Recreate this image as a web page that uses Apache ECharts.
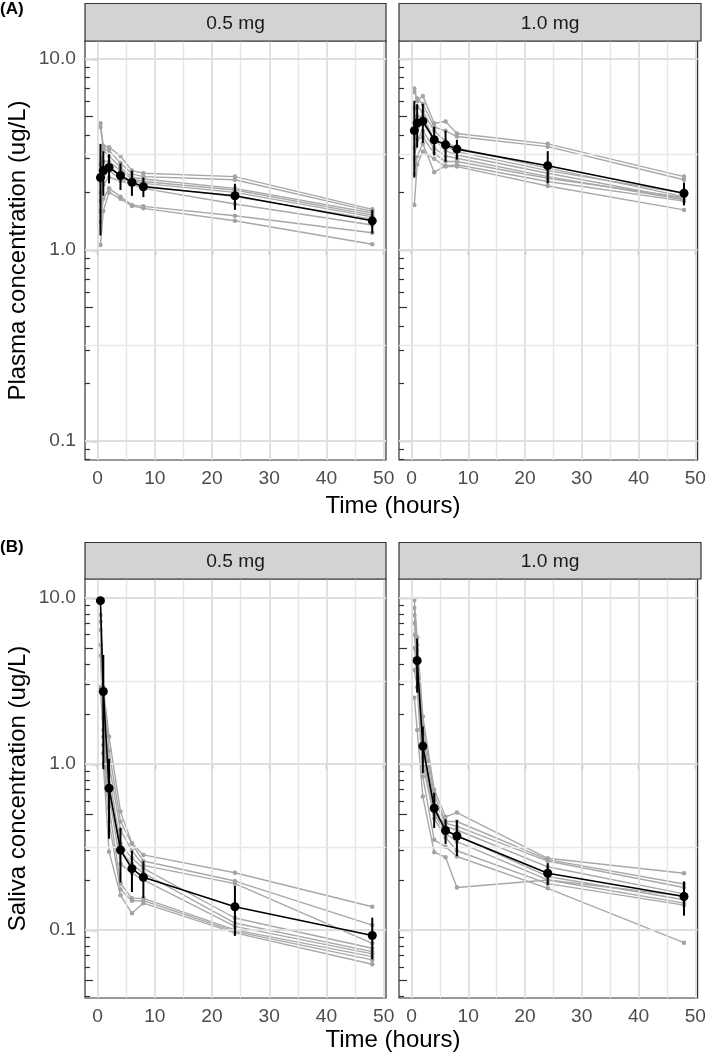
<!DOCTYPE html>
<html><head><meta charset="utf-8">
<script src="https://cdn.jsdelivr.net/npm/echarts@6/dist/echarts.min.js"></script>
<style>html,body{margin:0;padding:0;background:#fff}#c{width:709px;height:1057px}</style>
</head><body><div id="c"></div>
<script>
// ---------- data ----------
const times = [0.5, 1, 2, 4, 6, 8, 24, 48];
const doseLabels = ['0.5 mg', '1.0 mg'];
const xTickLabels = [0, 10, 20, 30, 40, 50];
const yTickLabels = [0.1, 1, 10];
const xLimits = [-2.2, 50.4];
const plasmaLimits = [0.0795, 12.4];
const salivaLimits = [0.0389, 13.0];

// individual subjects, plasma 0.5 mg
const plasma05 = [
  [4.6, 3.5, 3.45, 3.1, 2.6, 2.52, 2.42, 1.63],
  [4.4, 3.4, 3.3, 2.85, 2.5, 2.42, 2.33, 1.59],
  [2.8, 3.3, 3.1, 2.7, 2.4, 2.35, 2.10, 1.56],
  [2.3, 2.9, 2.9, 2.6, 2.35, 2.28, 2.06, 1.52],
  [2.0, 2.7, 2.75, 2.45, 2.3, 2.23, 2.00, 1.49],
  [1.8, 2.4, 2.6, 2.35, 2.25, 2.16, 1.90, 1.45],
  [1.6, 2.2, 2.4, 2.3, 2.2, 2.10, 1.74, 1.35],
  [1.4, 1.85, 2.1, 1.9, 1.72, 1.69, 1.51, 1.23],
  [1.06, 1.6, 2.0, 1.85, 1.70, 1.65, 1.42, 1.07]
];
const plasma05Mean = [2.39, 2.60, 2.70, 2.45, 2.26, 2.14, 1.92, 1.42];
const plasma05Sd   = [1.2, 0.68, 0.47, 0.39, 0.34, 0.25, 0.30, 0.20];

// plasma 1.0 mg
const plasma10 = [
  [7.0, 6.0, 6.4, 4.6, 4.7, 4.07, 3.59, 2.42],
  [6.7, 6.2, 5.8, 4.4, 4.2, 3.92, 3.47, 2.33],
  [5.5, 5.6, 5.3, 4.2, 3.7, 3.41, 2.68, 1.90],
  [4.6, 5.0, 5.0, 3.8, 3.5, 3.27, 2.60, 1.98],
  [3.9, 4.3, 4.6, 3.8, 3.3, 3.14, 2.52, 1.85],
  [3.4, 3.8, 4.2, 3.4, 3.1, 3.02, 2.42, 1.83],
  [3.0, 3.8, 3.9, 3.2, 2.9, 2.90, 2.37, 1.88],
  [2.5, 3.1, 3.6, 2.55, 2.75, 2.79, 2.28, 1.80],
  [1.72, 2.8, 3.27, 3.0, 2.73, 2.73, 2.16, 1.62]
];
const plasma10Mean = [4.21, 4.61, 4.72, 3.77, 3.55, 3.37, 2.76, 1.98];
const plasma10Sd   = [1.82, 1.18, 1.09, 0.64, 0.66, 0.40, 0.53, 0.27];

// saliva 0.5 mg
const saliva05 = [
  [7.9, 2.9, 1.46, 0.516, 0.333, 0.283, 0.221, 0.138],
  [7.2, 2.8, 1.2, 0.45, 0.33, 0.26, 0.197, 0.107],
  [6.4, 2.2, 1.0, 0.40, 0.30, 0.245, 0.19, 0.083],
  [5.2, 1.9, 0.85, 0.33, 0.27, 0.235, 0.118, 0.0775],
  [4.5, 1.6, 0.75, 0.30, 0.25, 0.22, 0.11, 0.074],
  [2.9, 1.46, 0.65, 0.25, 0.22, 0.20, 0.105, 0.0717],
  [null, 1.3, 0.55, 0.191, 0.155, 0.155, 0.10, 0.069],
  [null, 1.16, 0.45, 0.175, 0.15, 0.15, 0.098, 0.066],
  [null, 1.0, 0.296, 0.162, 0.126, 0.145, 0.096, 0.0621]
];
const saliva05Mean = [9.63, 2.73, 0.714, 0.303, 0.234, 0.2076, 0.138, 0.0925];
const saliva05Sd   = [10.5, 1.8, 0.36, 0.11, 0.065, 0.052, 0.046, 0.026];

// saliva 1.0 mg
const saliva10 = [
  [9.7, 5.8, 1.93, 0.70, 0.48, 0.509, 0.27, 0.2195],
  [8.7, 5.2, 1.7, 0.65, 0.45, 0.45, 0.265, 0.189],
  [7.9, 4.8, 1.5, 0.60, 0.44, 0.42, 0.26, 0.18],
  [7.05, 4.4, 1.35, 0.55, 0.42, 0.40, 0.24, 0.165],
  [6.0, 4.0, 1.2, 0.52, 0.40, 0.37, 0.21, 0.152],
  [5.0, 3.6, 1.1, 0.50, 0.38, 0.34, 0.20, 0.145],
  [4.3, 3.3, 1.0, 0.47, 0.36, 0.30, 0.19, 0.141],
  [3.68, 2.9, 0.838, 0.349, 0.317, 0.277, 0.178, 0.0838],
  [2.5, 1.6, 0.636, 0.294, 0.274, 0.18, 0.20, 0.16]
];
const saliva10Mean = [null, 4.19, 1.28, 0.541, 0.397, 0.368, 0.2195, 0.159];
const saliva10Sd   = [null, 1.5, 0.4, 0.13, 0.068, 0.09, 0.033, 0.037];

// ---------- chart ----------
const FONT = "'Liberation Sans', Arial, Helvetica, sans-serif";
const L = Math.log10;
const BORDER = '#333333';

const panels = [
  {grid: {left: 85, top: 41, width: 301, height: 419}, subj: plasma05, mean: plasma05Mean, sd: plasma05Sd, lim: plasmaLimits, left: true, title: 'Plasma concentration (ug/L)', strip: doseLabels[0]},
  {grid: {left: 399, top: 41, width: 302, height: 419}, subj: plasma10, mean: plasma10Mean, sd: plasma10Sd, lim: plasmaLimits, left: false, strip: doseLabels[1]},
  {grid: {left: 85, top: 579, width: 301, height: 419}, subj: saliva05, mean: saliva05Mean, sd: saliva05Sd, lim: salivaLimits, left: true, title: 'Saliva concentration (ug/L)', strip: doseLabels[0]},
  {grid: {left: 399, top: 579, width: 302, height: 419}, subj: saliva10, mean: saliva10Mean, sd: saliva10Sd, lim: salivaLimits, left: false, strip: doseLabels[1]}
];

function logTickValues(lim, mults) {
  const out = [];
  [0.01, 0.1, 1, 10].forEach(d => mults.forEach(m => {
    const v = d * m;
    if (v >= lim[0] && v <= lim[1]) out.push(L(v));
  }));
  return out;
}

const grids = [], xAxes = [], yAxes = [], series = [], graphics = [];

panels.forEach((p, i) => {
  grids.push(Object.assign({show: true, borderColor: BORDER, borderWidth: 1.2, backgroundColor: '#ffffff', containLabel: false}, p.grid));
  const ymin = L(p.lim[0]), ymax = L(p.lim[1]);

  xAxes.push({
    gridIndex: i, type: 'value', position: 'bottom', min: xLimits[0], max: xLimits[1],
    axisLine: {show: false},
    axisTick: {show: true, length: 5, customValues: xTickLabels, lineStyle: {color: BORDER, width: 1.2}},
    axisLabel: {show: true, customValues: xTickLabels, fontSize: 19.2, color: '#4d4d4d', fontFamily: FONT, margin: 9},
    splitLine: {show: false}
  });

  const yBase = yAxes.length;
  const decades = yTickLabels.map(v => L(v)).filter(v => v >= ymin && v <= ymax);
  yAxes.push({
    gridIndex: i, type: 'value', position: 'left', min: ymin, max: ymax,
    axisLine: {show: false},
    axisTick: {show: p.left, length: 5, customValues: decades, lineStyle: {color: BORDER, width: 1.2}},
    axisLabel: {show: p.left, customValues: decades, fontSize: 19.2, color: '#4d4d4d', fontFamily: FONT, margin: 9,
      formatter: v => Math.pow(10, v).toFixed(1)},
    splitLine: {show: false},
    name: p.left ? p.title : '', nameLocation: 'middle', nameGap: 55,
    nameTextStyle: {fontSize: 24, color: '#000', fontFamily: FONT}
  });
  [[decades, 13], [logTickValues(p.lim, [5]), 8], [logTickValues(p.lim, [2, 3, 4, 6, 7, 8, 9]), 5]].forEach(([vals, len]) => {
    yAxes.push({
      gridIndex: i, type: 'value', position: 'left', min: ymin, max: ymax,
      axisLine: {show: false}, axisLabel: {show: false}, splitLine: {show: false},
      axisTick: {show: true, inside: true, length: len, customValues: vals, lineStyle: {color: BORDER, width: 1.2}}
    });
  });

  // panel grid lines (major + minor)
  const mlData = [];
  for (let x = 0; x <= 50; x += 5) {
    const major = x % 10 === 0;
    mlData.push({xAxis: x, lineStyle: {color: major ? '#dedede' : '#e6e6e6', width: major ? 1.8 : 1.4, type: 'solid'}});
  }
  [-1.5, -1, -0.5, 0, 0.5, 1, 1.5].forEach(v => {
    if (v > ymin && v < ymax) {
      const major = Number.isInteger(v);
      mlData.push({yAxis: v, lineStyle: {color: major ? '#dedede' : '#e8e8e8', width: major ? 1.8 : 1.3, type: 'solid'}});
    }
  });
  series.push({
    type: 'line', xAxisIndex: i, yAxisIndex: yBase, data: [[0, 0]], symbol: 'none', showSymbol: false,
    lineStyle: {width: 0, opacity: 0}, silent: true, z: 1,
    markLine: {silent: true, symbol: ['none', 'none'], label: {show: false}, animation: false, data: mlData}
  });

  // individual subject profiles
  p.subj.forEach(s => {
    series.push({
      type: 'line', xAxisIndex: i, yAxisIndex: yBase, z: 3,
      data: times.map((t, j) => [t, s[j]]).filter(d => d[1] != null).map(d => [d[0], L(d[1])]),
      symbol: 'circle', symbolSize: 4.5, showSymbol: true,
      itemStyle: {color: '#a3a3a3'}, lineStyle: {color: '#a8a8a8', width: 1.4}, silent: true
    });
  });

  // error bars (mean +/- SD)
  series.push({
    type: 'custom', xAxisIndex: i, yAxisIndex: yBase, z: 5, silent: true,
    data: times.map((t, j) => (p.mean[j] != null && p.mean[j] - p.sd[j] > 0)
      ? [t, L(p.mean[j] + p.sd[j]), L(p.mean[j] - p.sd[j])] : null).filter(Boolean),
    encode: {x: 0, y: [1, 2]},
    renderItem: (params, api) => {
      const a = api.coord([api.value(0), api.value(1)]);
      const b = api.coord([api.value(0), api.value(2)]);
      return {type: 'line', shape: {x1: a[0], y1: a[1], x2: b[0], y2: b[1]}, style: {stroke: '#000', lineWidth: 2}};
    }
  });

  // mean profile
  series.push({
    type: 'line', xAxisIndex: i, yAxisIndex: yBase, z: 6, silent: true,
    data: times.map((t, j) => [t, p.mean[j]]).filter(d => d[1] != null).map(d => [d[0], L(d[1])]),
    symbol: 'circle', symbolSize: 9, showSymbol: true,
    itemStyle: {color: '#000'}, lineStyle: {color: '#000', width: 1.6}
  });

  // strip
  const g = p.grid;
  const stripTop = i < 2 ? 3.5 : 542.5;
  const stripH = g.top - stripTop;
  graphics.push({type: 'rect', shape: {x: g.left, y: stripTop, width: g.width, height: stripH},
    style: {fill: '#d3d3d3', stroke: BORDER, lineWidth: 1.2}, z: 10});
  graphics.push({type: 'text', x: g.left + g.width / 2, y: stripTop + stripH / 2 + 1, z: 11,
    style: {text: p.strip, fill: '#1a1a1a', font: '19.2px ' + FONT, align: 'center', verticalAlign: 'middle', textAlign: 'center', textVerticalAlign: 'middle'}});
});

// shared texts
[['(A)', 0, 9], ['(B)', 0, 547]].forEach(([t, x, y]) => graphics.push({type: 'text', x: x, y: y, z: 11,
  style: {text: t, fill: '#000', font: 'bold 17px ' + FONT, align: 'left', verticalAlign: 'middle', textAlign: 'left', textVerticalAlign: 'middle'}}));
[506, 1040].forEach(y => graphics.push({type: 'text', x: 393, y: y, z: 11,
  style: {text: 'Time (hours)', fill: '#000', font: '24px ' + FONT, align: 'center', verticalAlign: 'middle', textAlign: 'center', textVerticalAlign: 'middle'}}));

const chart = echarts.init(document.getElementById('c'), null, {renderer: 'canvas'});
chart.setOption({
  animation: false,
  backgroundColor: '#ffffff',
  textStyle: {fontFamily: FONT},
  grid: grids, xAxis: xAxes, yAxis: yAxes, series: series, graphic: graphics
});
</script></body></html>
